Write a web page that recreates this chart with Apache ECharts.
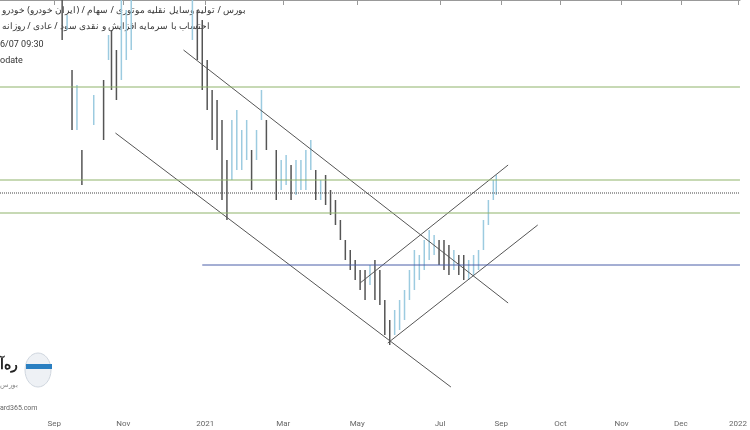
<!DOCTYPE html>
<html><head><meta charset="utf-8">
<script src="https://cdn.jsdelivr.net/npm/echarts@6/dist/echarts.min.js"></script>
<style>body{margin:0;background:#fff}#c{width:750px;height:430px}</style>
</head><body><div id="c"></div>
<script>
// bar positions (x in chart units) with high / low (y units, 0 = top)
var barX    = [63,68,73,78,83,95,105,110,113,118,123,128,133,195,200,205,210,215,220,225,230,235,240,245,250,255,260,265,270,280,285,290,295,300,305,310,315,320,325,330,335,340,345,350,355,360,365,370,375,380,385,390,395,400,405,410,415,420,425,430,435,440,445,450,455,460,465,470,475,480,485,490,495,500,503];
var barHigh = [0,15,70,85,150,95,80,35,30,50,0,10,0,0,10,20,60,90,100,120,160,120,110,130,120,150,130,90,120,150,160,155,165,160,160,150,140,170,180,175,190,200,220,240,250,260,270,270,265,260,270,300,320,310,300,290,270,250,255,240,230,235,240,240,245,250,255,255,260,255,250,220,200,180,175];
var barLow  = [40,30,130,130,185,125,140,60,90,100,80,60,50,40,60,90,110,140,150,200,220,180,170,170,160,190,160,120,150,200,190,185,200,195,190,190,170,200,200,205,215,225,240,260,270,280,290,300,285,300,305,335,345,335,330,320,300,290,280,270,260,255,265,270,275,270,275,280,280,275,270,250,225,200,195];
var monthX = [55,125,208,287,362,446,508,568,630,690,748];
var monthNames = ['Sep','Nov','2021','Mar','May','Jul','Sep','Oct','Nov','Dec','2022'];
var trendLines = [
  [[117,133],[457,387]],
  [[186,50],[515,303]],
  [[393,343],[545,225]],
  [[365,283],[515,165]]
];
var hLines = [
  {y:87, x0:0, c:'#8fb36b', t:'solid'},
  {y:180, x0:0, c:'#8fb36b', t:'solid'},
  {y:193, x0:0, c:'#444', t:'dotted'},
  {y:213, x0:0, c:'#8fb36b', t:'solid'},
  {y:265, x0:205, c:'#4a5fa8', t:'solid'}
];

var chart = echarts.init(document.getElementById('c'));
var series = [{
  type:'custom',
  renderItem:function(params, api){
    var i = params.dataIndex;
    var a = api.coord([api.value(0), api.value(1)]);
    var b = api.coord([api.value(0), api.value(2)]);
    var up = i > 0 && barLow[i] <= barLow[i-1];
    return {type:'line', shape:{x1:a[0],y1:a[1],x2:b[0],y2:b[1]},
      style:{stroke: up ? '#9ccbe0' : '#555', lineWidth:1.5}};
  },
  data: barX.map(function(x,i){return [x, barHigh[i], barLow[i]];})
}];
trendLines.forEach(function(l){
  series.push({type:'line', data:l, symbol:'none', lineStyle:{color:'#555', width:1}});
});
hLines.forEach(function(h){
  series.push({type:'line', data:[[h.x0,h.y],[750,h.y]], symbol:'none', lineStyle:{color:h.c, width:1, type:h.t}});
});

chart.setOption({
  animation:false,
  grid:{left:0,right:0,top:0,bottom:18},
  xAxis:{type:'value', min:0, max:750,
    axisLine:{lineStyle:{color:'#999'}}, splitLine:{show:false},
    axisTick:{customValues:monthX, lineStyle:{color:'#999'}},
    axisLabel:{customValues:monthX, color:'#666', fontSize:8, fontFamily:'Roboto',
      formatter:function(v){return monthNames[monthX.indexOf(v)];}}},
  yAxis:{type:'value', min:0, max:412, inverse:true, show:false},
  series:series,
  graphic:[
    {type:'text', left:2, top:6, style:{text:'بورس / تولید وسایل نقلیه موتوری / سهام / (ایران خودرو) خودرو', fontSize:9, fill:'#333', fontFamily:'Noto Sans'}},
    {type:'text', left:2, top:22, style:{text:'احتساب با سرمایه افزایش و نقدی سود / عادی / روزانه', fontSize:9, fill:'#333', fontFamily:'Noto Sans'}},
    {type:'text', left:0, top:40, style:{text:'6/07 09:30', fontSize:9, fill:'#333', fontFamily:'Roboto'}},
    {type:'text', left:0, top:56, style:{text:'odate', fontSize:9, fill:'#333', fontFamily:'Roboto'}},
    {type:'ellipse', shape:{cx:38,cy:370,rx:13,ry:17}, style:{fill:'#eef1f5', stroke:'#cfd6de'}},
    {type:'rect', shape:{x:26,y:364,width:26,height:5}, style:{fill:'#2a7fc1'}},
    {type:'text', left:0, top:358, style:{text:'ره‌آ', fontSize:14, fontWeight:'bold', fill:'#222', fontFamily:'Noto Sans'}},
    {type:'text', left:0, top:381, style:{text:'بورس', fontSize:7, fill:'#888', fontFamily:'Noto Sans'}},
    {type:'text', left:0, top:405, style:{text:'ard365.com', fontSize:7, fill:'#666', fontFamily:'Roboto'}}
  ]
});
</script></body></html>
